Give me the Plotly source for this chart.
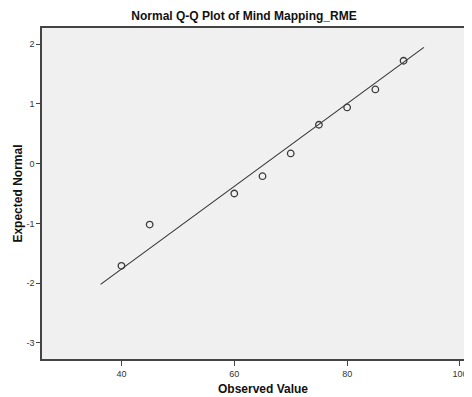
import plotly.graph_objects as go

# Data
observed = [40, 45, 60, 65, 70, 75, 80, 85, 90]
expected = [-1.71, -1.02, -0.50, -0.21, 0.17, 0.65, 0.94, 1.24, 1.72]
line_x = [36.3, 93.6]
mean_val = 65.5
sd_val = 14.46
line_y = [(v - mean_val) / sd_val for v in line_x]

x_ticks = [40, 60, 80, 100]
y_ticks = [-3, -2, -1, 0, 1, 2]
y_tick_text = ["-3", "-2", "-1", "0", "1", "2"]

FONT = "Liberation Sans, Arial, sans-serif"
AX = "#444444"

# page body has an 8px margin; the figure is sized to fit the 472x397 window
W, H = 464, 389

fig = go.Figure()
fig.add_trace(go.Scatter(x=line_x, y=line_y, mode="lines",
                         line=dict(color="#333333", width=1.1),
                         hoverinfo="skip", showlegend=False))
fig.add_trace(go.Scatter(x=observed, y=expected, mode="markers",
                         marker=dict(symbol="circle-open", size=6.5,
                                     color="#3a3a3a", line=dict(width=1.3)),
                         showlegend=False))

fig.update_layout(
    width=W, height=H,
    margin=dict(l=34, r=0, t=20, b=38),
    paper_bgcolor="white", plot_bgcolor="#F0F0F0",
    font=dict(family=FONT, size=9, color="#333333"),
    title=dict(text="<b>Normal Q-Q Plot of Mind Mapping_RME</b>",
               font=dict(family=FONT, size=12, color="#111111"),
               xref="container", x=236/W, xanchor="center",
               yref="container", y=1 - 8/H, yanchor="middle"),
    xaxis=dict(range=[25.92, 102.13], tickvals=x_ticks,
               showgrid=False, zeroline=False,
               showline=True, linecolor=AX, linewidth=1.5, mirror=True,
               ticks="outside", ticklen=5, tickcolor=AX, tickwidth=1,
               tickfont=dict(family=FONT, size=9, color="#333333")),
    yaxis=dict(range=[-3.268, 2.268], tickvals=y_ticks, ticktext=y_tick_text,
               showgrid=False, zeroline=False,
               showline=True, linecolor=AX, linewidth=1.5,
               ticks="outside", ticklen=4, tickcolor=AX, tickwidth=1,
               tickfont=dict(family=FONT, size=9, color="#333333")),
    annotations=[
        dict(text="<b>Expected Normal</b>", xref="paper", yref="paper",
             x=-0.058, y=0.5, xanchor="center", yanchor="middle",
             textangle=-90, showarrow=False,
             font=dict(family=FONT, size=12, color="#111111")),
        dict(text="<b>Observed Value</b>", xref="paper", yref="paper",
             x=(254.5-34)/430, y=(351-381)/331, xanchor="center", yanchor="middle",
             showarrow=False,
             font=dict(family=FONT, size=12, color="#111111")),
    ],
)

fig.write_html("out.html")
